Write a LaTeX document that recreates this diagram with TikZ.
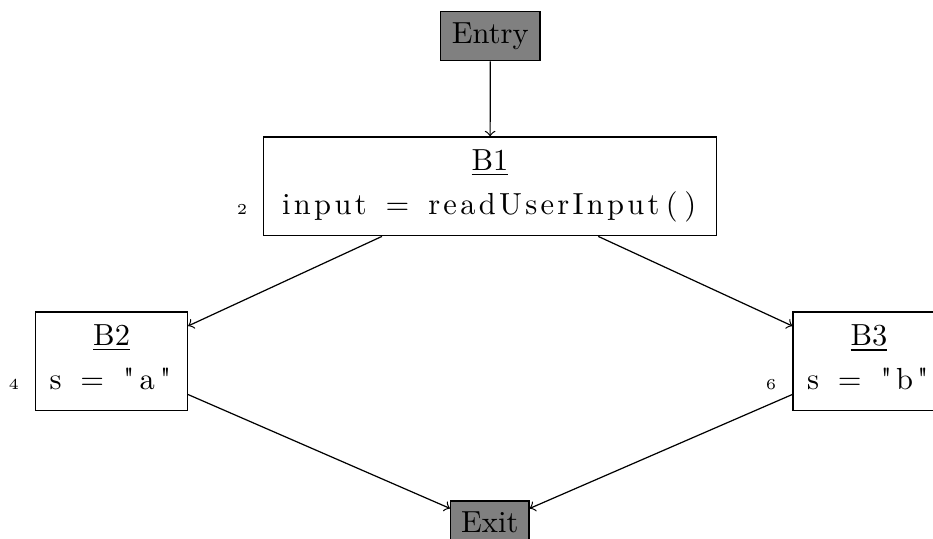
\documentclass[tikz,border=0pt]{standalone}
\usetikzlibrary{arrows}
\font\plainlm="[lmroman10-regular]" at 10pt
\def\dq{{\plainlm\char34}}
\newcommand\cc[1]{\hbox to 6pt{\hss#1\hss}}
\newcommand\fw[2]{\hbox to #1pt{\hss#2\hss}}
\tikzset{
  blockbox/.style={draw, rectangle, inner sep=0pt, minimum width={0.328*#1}},
  termbox/.style={draw, rectangle, fill=gray, inner sep=0pt, minimum height={0.328*49.4pt}},
  titletext/.style={anchor=base, inner sep=0pt},
  codetext/.style={anchor=base, inner sep=0pt},
  lineno/.style={anchor=base, inner sep=0pt, font=\tiny},
  flow/.style={->},
}
\begin{document}
\begin{tikzpicture}[x=0.328pt, y=-0.328pt]
\useasboundingbox (0,0) rectangle (933,538);
% terminal nodes
\node[termbox, minimum width={0.328*99.5pt}] (entry) at (490.3,36) {Entry};
\node[termbox, minimum width={0.328*78.4pt}] (exit) at (489.8,525.7) {};
\node[anchor=base, inner sep=0pt] (exittext) at (489.8,532) {Exit};
% basic blocks
\node[blockbox=452.3pt, minimum height={0.328*98.7pt}] (b1) at (490,186.4) {};
\node[blockbox=151.8pt, minimum height={0.328*98.6pt}] (b2) at (111.6,361.3) {};
\node[blockbox=151.8pt, minimum height={0.328*98.6pt}] (b3) at (868.9,361.3) {};
% block contents
\node[titletext] (b1t) at (490,170) {\underline{B1}};
\node[codetext] (b1c) at (489,214) {\fw{30}{i\hss n\hss p\hss u\hss t}\cc{~}\cc{=}\cc{~}\fw{78}{r\hss e\hss a\hss d\hss U\hss s\hss e\hss r\hss I\hss n\hss p\hss u\hss t}\cc{(}\cc{)}};
\node[lineno] (n2) at (242,214) {2};
\node[titletext] (b2t) at (111.6,345) {\underline{B2}};
\node[codetext] (b2c) at (110.6,389) {\cc{s}\cc{~}\cc{=}\cc{~}\cc{\dq}\cc{a}\cc{\dq}};
\node[lineno] (n4) at (13.7,389) {4};
\node[titletext] (b3t) at (868.9,345) {\underline{B3}};
\node[codetext] (b3c) at (867.9,389) {\cc{s}\cc{~}\cc{=}\cc{~}\cc{\dq}\cc{b}\cc{\dq}};
\node[lineno] (n6) at (771,389) {6};
% edges
\draw[flow] (entry) -- (b1);
\draw[flow] (b1) -- (b2);
\draw[flow] (b1) -- (b3);
\draw[flow] (b2) -- (exit);
\draw[flow] (b3) -- (exit);
\end{tikzpicture}
\end{document}
